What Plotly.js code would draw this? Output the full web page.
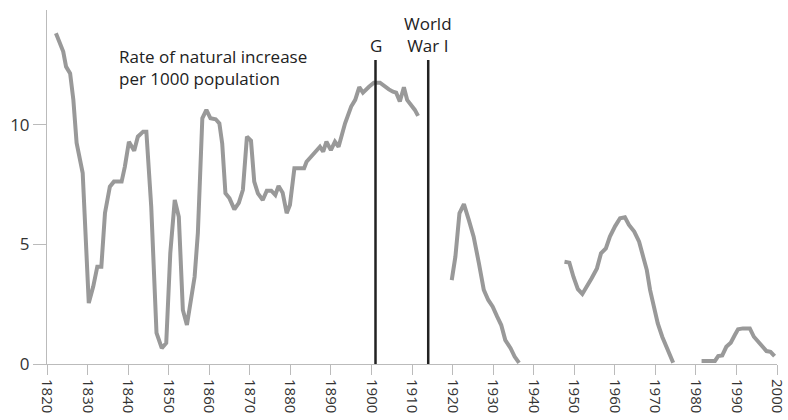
<!DOCTYPE html>
<html>
<head>
<meta charset="utf-8">
<script src="https://cdn.plot.ly/plotly-3.0.1.min.js"></script>
<style>html,body{margin:0;padding:0;background:#fff}#chart{width:788px;height:420px}</style>
</head>
<body>
<div id="chart"></div>
<script>
// Rate of natural increase per 1000 population (segments separated by gaps)
var years1 = [1822.2,1824.0,1824.7,1825.7,1826.5,1827.3,1828.8,1830.3,1831.4,1832.4,1833.4,1834.3,1835.5,1836.5,1838.4,1839.2,1840.2,1841.5,1842.4,1843.7,1844.5,1845.7,1847.0,1848.3,1849.4,1850.4,1851.5,1852.5,1853.5,1854.5,1856.4,1857.2,1858.3,1859.3,1860.3,1861.6,1862.5,1863.2,1864.0,1865.0,1866.2,1867.3,1868.3,1869.3,1870.3,1871.1,1872.0,1873.2,1874.2,1875.3,1876.3,1877.1,1878.1,1879.1,1879.9,1881.0,1883.4,1884.0,1885.1,1886.3,1887.3,1888.1,1888.9,1890.0,1891.0,1891.9,1893.5,1895.0,1896.0,1897.0,1897.9,1899.4,1900.6,1902.1,1903.4,1904.3,1905.3,1906.1,1907.0,1908.0,1908.8,1909.9,1910.7,1911.5];
var rate1 = [13.84,13.07,12.44,12.16,11.05,9.25,7.99,2.55,3.24,4.07,4.07,6.32,7.42,7.63,7.63,8.26,9.30,8.92,9.51,9.72,9.72,6.58,1.30,0.66,0.88,4.64,6.86,6.16,2.26,1.63,3.65,5.48,10.28,10.63,10.28,10.24,10.07,9.23,7.14,6.93,6.47,6.74,7.28,9.51,9.34,7.63,7.14,6.86,7.25,7.25,7.07,7.45,7.17,6.31,6.65,8.19,8.19,8.46,8.67,8.88,9.09,8.88,9.30,8.95,9.30,9.09,10.07,10.77,11.05,11.58,11.35,11.60,11.77,11.77,11.58,11.49,11.39,11.35,10.98,11.58,11.05,10.84,10.63,10.38];

var years2 = [1919.8,1920.7,1921.7,1922.8,1924.0,1925.2,1926.5,1927.7,1928.8,1929.9,1931.0,1932.0,1933.0,1934.3,1935.3,1936.4];
var rate2 = [3.51,4.49,6.30,6.69,6.03,5.33,4.21,3.10,2.68,2.40,1.98,1.63,1.00,0.66,0.31,0.05];

var years3 = [1947.6,1948.8,1949.8,1950.9,1952.0,1953.1,1954.3,1955.6,1956.6,1957.8,1958.8,1960.1,1961.3,1962.5,1963.5,1964.8,1966.0,1967.0,1967.9,1968.7,1969.5,1970.6,1971.7,1972.8,1973.6,1974.4];
var rate3 = [4.28,4.24,3.65,3.13,2.93,3.21,3.59,4.00,4.63,4.84,5.33,5.77,6.10,6.14,5.82,5.54,5.12,4.49,3.93,3.10,2.47,1.70,1.14,0.66,0.31,0.05];

var years4 = [1981.4,1982.6,1984.7,1985.5,1986.5,1987.5,1988.6,1989.6,1990.4,1991.6,1993.3,1994.3,1995.3,1996.3,1997.4,1998.4,1999.4];
var rate4 = [0.13,0.13,0.13,0.33,0.36,0.72,0.89,1.21,1.45,1.49,1.49,1.14,0.93,0.72,0.54,0.51,0.33];

// Event markers
var eventYears = [1901, 1914];
var eventLabels = ['G', 'World<br>War I'];
var eventLineTop = 12.72;

var tickYears = [1820,1830,1840,1850,1860,1870,1880,1890,1900,1910,1920,1930,1940,1950,1960,1970,1980,1990,2000];
var yTicks = [0, 5, 10];

var seriesLabel = 'Rate of natural increase<br>per 1000 population';

var FONT = '"Open Sans", "Noto Sans", sans-serif';
var lineStyle = {color: '#999999', width: 4, shape: 'linear'};

var traces = [];
[[years1, rate1],[years2, rate2],[years3, rate3],[years4, rate4]].forEach(function(s){
  traces.push({x: s[0], y: s[1], type: 'scatter', mode: 'lines', line: lineStyle, hoverinfo: 'skip', showlegend: false});
});
eventYears.forEach(function(yr){
  traces.push({x: [yr, yr], y: [0, eventLineTop], type: 'scatter', mode: 'lines', line: {color: '#222222', width: 2.5}, hoverinfo: 'skip', showlegend: false});
});

var annotations = [{
  x: 1837.3, y: 12.42, xref: 'x', yref: 'y', text: seriesLabel, showarrow: false,
  xanchor: 'left', yanchor: 'middle', align: 'left',
  font: {family: FONT, size: 17, color: '#222222'}
}];
eventYears.forEach(function(yr, i){
  annotations.push({x: yr, y: eventLineTop, xref: 'x', yref: 'y', text: eventLabels[i], showarrow: false,
    xanchor: 'center', yanchor: 'bottom', align: 'center', yshift: 1,
    font: {family: FONT, size: 17, color: '#222222'}});
});

var layout = {
  width: 788, height: 420,
  margin: {l: 47, r: 11, t: 10, b: 56},
  paper_bgcolor: '#ffffff', plot_bgcolor: '#ffffff',
  font: {family: FONT, size: 15, color: '#333333'},
  xaxis: {
    range: [1820, 2000], tickvals: tickYears, ticktext: tickYears.map(String),
    tickangle: 90, ticks: 'outside', ticklen: 10, tickcolor: '#bbbbbb', tickwidth: 1,
    ticklabelstandoff: 1, ticklabeloverflow: 'allow',
    showline: true, linecolor: '#bbbbbb', linewidth: 1, showgrid: false, zeroline: false,
    tickfont: {family: FONT, size: 15, color: '#333333'}
  },
  yaxis: {
    range: [0, 14.81], tickvals: yTicks, ticktext: yTicks.map(String),
    ticks: 'outside', ticklen: 13, tickcolor: '#bbbbbb', tickwidth: 1,
    showline: true, linecolor: '#bbbbbb', linewidth: 1, showgrid: false, zeroline: false,
    tickfont: {family: FONT, size: 17, color: '#333333'}
  },
  annotations: annotations,
  showlegend: false
};

Plotly.newPlot('chart', traces, layout, {displayModeBar: false, staticPlot: true});
</script>
</body>
</html>
